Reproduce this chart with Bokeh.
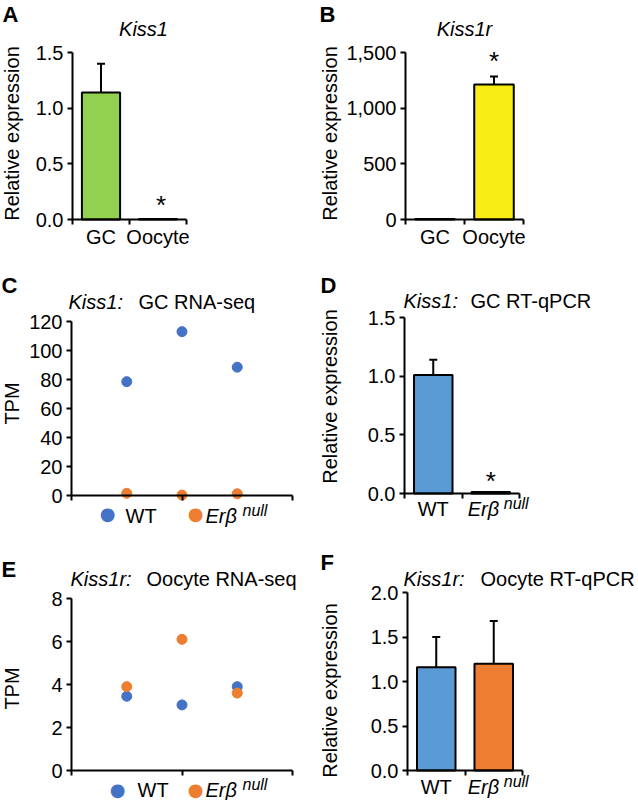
import numpy as np
from bokeh.plotting import figure
from bokeh.models import (Range1d, FixedTicker, Label, Whisker, ColumnDataSource,
                          TeeHead, NumeralTickFormatter)
from bokeh.layouts import gridplot
from bokeh.embed import file_html
from bokeh.resources import INLINE

# ---------------- data ----------------
# A: Kiss1 relative expression
kiss1_cells = ["GC", "Oocyte"]
kiss1_expr = [1.14, 0.005]
kiss1_err = [0.26, 0.0]
kiss1_ticks = [0.0, 0.5, 1.0, 1.5]

# B: Kiss1r relative expression
kiss1r_cells = ["GC", "Oocyte"]
kiss1r_expr = [5.0, 1213.0]
kiss1r_err = [0.0, 71.0]
kiss1r_ticks = [0, 500, 1000, 1500]

# C: Kiss1 GC RNA-seq (TPM, three replicates)
reps = [1, 2, 3]
gc_tpm_wt = [78.5, 113.0, 88.5]
gc_tpm_null = [1.5, 0.3, 1.2]
gc_tpm_ticks = [0, 20, 40, 60, 80, 100, 120]

# D: Kiss1 GC RT-qPCR
genotypes = ["WT", "Erβ"]
gc_qpcr_expr = [1.01, 0.012]
gc_qpcr_err = [0.13, 0.0]
gc_qpcr_ticks = [0.0, 0.5, 1.0, 1.5]

# E: Kiss1r oocyte RNA-seq (TPM)
oo_tpm_wt = [3.45, 3.05, 3.9]
oo_tpm_null = [3.9, 6.1, 3.6]
oo_tpm_ticks = [0, 2, 4, 6, 8]

# F: Kiss1r oocyte RT-qPCR
oo_qpcr_expr = [1.16, 1.20]
oo_qpcr_err = [0.34, 0.48]
oo_qpcr_ticks = [0.0, 0.5, 1.0, 1.5, 2.0]

# ---------------- styling / layout ----------------
FONT = "Liberation Sans"
GREEN, YELLOW = "#92D050", "#F7EC13"
BAR_BLUE, BAR_ORANGE = "#5B9BD5", "#ED7D31"
DOT_BLUE, DOT_ORANGE = "#4472C4", "#ED7D31"
COLS = [(0, 318), (318, 318)]
ROWS = [(0, 268), (268, 264), (532, 268)]
K_ALPHA = 0.35   # measured downward drift of baseline-anchored labels (em)
K_MID = 0.10


def panel(col, row, frame, xmax, yticks, fmt, xminor):
    ox, w = COLS[col]
    oy, h = ROWS[row]
    L, T, R, B = frame
    ytop = yticks[-1]
    xr = Range1d((ox - L) / (R - L) * xmax, (ox + w - L) / (R - L) * xmax)
    yr = Range1d((B - (oy + h)) / (B - T) * ytop, (B - oy) / (B - T) * ytop)
    p = figure(width=w, height=h, x_range=xr, y_range=yr,
               output_backend="svg", toolbar_location=None, title=None,
               min_border=0, background_fill_color="white",
               border_fill_color="white")
    p.outline_line_color = None
    p.xgrid.visible = False
    p.ygrid.visible = False
    for ax in (p.xaxis[0], p.yaxis[0]):
        ax.fixed_location = 0
        ax.axis_line_color = "black"
        ax.axis_line_width = 2
        ax.major_tick_line_color = "black"
        ax.major_tick_line_width = 2
        ax.major_tick_out = 5
        ax.major_tick_in = 0
        ax.minor_tick_line_color = "black"
        ax.minor_tick_line_width = 2
        ax.minor_tick_out = 5
        ax.minor_tick_in = 0
        ax.major_label_text_font = FONT
        ax.major_label_text_color = "black"
    p.yaxis.bounds = (yticks[0], ytop)
    p.yaxis.ticker = FixedTicker(ticks=yticks, minor_ticks=[])
    p.yaxis.formatter = NumeralTickFormatter(format=fmt)
    p.yaxis.major_label_text_font_size = "20px"
    p.yaxis.major_label_standoff = 4
    p.xaxis.bounds = (0, xmax)
    p.xaxis.ticker = FixedTicker(ticks=[], minor_ticks=xminor)
    return p, (ox, oy, h)


def _adj(py, size, baseline):
    return py - (K_ALPHA if baseline == "alphabetic" else K_MID) * size


def put(pf, px, py, text, size=20, style="normal", align="left",
        baseline="alphabetic", color="black", angle=0.0, font=FONT):
    p, (ox, oy, h) = pf
    if angle:
        px = px - K_MID * size
    else:
        py = _adj(py, size, baseline)
    p.add_layout(Label(x=px - ox, y=oy + h - py, x_units="screen", y_units="screen",
                       text=text, text_font=font, text_font_size=f"{size}px",
                       text_font_style=style, text_align=align,
                       text_baseline=baseline, text_color=color, angle=angle))


def put_cat(pf, xdata, py, text, xoff=0, size=20, style="normal", align="center"):
    p, (ox, oy, h) = pf
    py = _adj(py, size, "alphabetic")
    p.add_layout(Label(x=xdata, y=oy + h - py, x_units="data", y_units="screen",
                       x_offset=xoff, text=text, text_font=FONT,
                       text_font_size=f"{size}px", text_font_style=style,
                       text_align=align, text_baseline="alphabetic",
                       text_color="black"))


def bars(pf, vals, errs, colors):
    p = pf[0]
    xs = [0.5 + i for i in range(len(vals))]
    p.vbar(x=xs, top=vals, width=0.67, fill_color=colors,
           line_color="black", line_width=2)
    keep = [i for i, e in enumerate(errs) if e > 0]
    src = ColumnDataSource(dict(x=[xs[i] for i in keep],
                                lo=[vals[i] for i in keep],
                                hi=[vals[i] + errs[i] for i in keep]))
    p.add_layout(Whisker(source=src, base="x", lower="lo", upper="hi",
                         dimension="height", line_color="black", line_width=2,
                         lower_head=None,
                         upper_head=TeeHead(size=8, line_color="black",
                                            line_width=2), level="glyph"))
    return xs


def legend(pf, bx, wx, orx, ex, nx, ycen, ybase):
    put(pf, bx, ycen, "●", size=18, align="center", baseline="middle",
        color=DOT_BLUE, font="DejaVu Sans")
    put(pf, wx, ybase, "WT")
    put(pf, orx, ycen, "●", size=18, align="center", baseline="middle",
        color=DOT_ORANGE, font="DejaVu Sans")
    put(pf, ex, ybase, "Erβ", style="italic")
    put(pf, nx, ybase - 6, "null", size=16, style="italic")


RAD = np.pi / 2

# ---- A ----
pA = panel(0, 0, (72, 52, 186, 219), 2, kiss1_ticks, "0.0", [0, 1, 2])
xs = bars(pA, kiss1_expr, kiss1_err, [GREEN, GREEN])
put(pA, 2, 22, "A", size=22, style="bold")
put(pA, 143, 35, "Kiss1", style="italic", align="center")
put(pA, 13, 133, "Relative expression", angle=RAD, align="center", baseline="middle")
for x, c in zip(xs, kiss1_cells):
    put_cat(pA, x, 243, c)
put_cat(pA, xs[1], 214, "*", size=26, xoff=3)

# ---- B ----
pB = panel(1, 0, (405, 52, 523, 219), 2, kiss1r_ticks, "0,0", [0, 1, 2])
xs = bars(pB, kiss1r_expr, kiss1r_err, [YELLOW, YELLOW])
put(pB, 319, 22, "B", size=22, style="bold")
put(pB, 464, 35, "Kiss1r", style="italic", align="center")
put(pB, 331, 133, "Relative expression", angle=RAD, align="center", baseline="middle")
for x, c in zip(xs, kiss1r_cells):
    put_cat(pB, x, 243, c)
put_cat(pB, xs[1], 70, "*", size=26)

# ---- C ----
pC = panel(0, 1, (71, 321, 292, 495), 4, gc_tpm_ticks, "0", [0, 2, 4])
pC[0].scatter(x=reps, y=gc_tpm_wt, size=10, color=DOT_BLUE)
pC[0].scatter(x=reps, y=gc_tpm_null, size=10, color=DOT_ORANGE)
put(pC, 1, 293, "C", size=22, style="bold")
put(pC, 68, 308, "Kiss1:", style="italic")
put(pC, 138, 308, "GC RNA-seq")
put(pC, 13, 403, "TPM", angle=RAD, align="center", baseline="middle")
legend(pC, 107, 125, 195, 205, 242, 515, 522)

# ---- D ----
pD = panel(1, 1, (404, 317, 519, 493), 2, gc_qpcr_ticks, "0.0", [0, 1, 2])
xs = bars(pD, gc_qpcr_expr, gc_qpcr_err, [BAR_BLUE, BAR_BLUE])
put(pD, 320, 293, "D", size=22, style="bold")
put(pD, 403, 307, "Kiss1:", style="italic")
put(pD, 470, 307, "GC RT-qPCR")
put(pD, 331, 396, "Relative expression", angle=RAD, align="center", baseline="middle")
put_cat(pD, xs[0], 515, genotypes[0])
put_cat(pD, xs[1], 515, genotypes[1], xoff=-23, style="italic", align="left")
put_cat(pD, xs[1], 509, "null", xoff=13, size=16, style="italic", align="left")
put_cat(pD, xs[1], 490, "*", size=26)

# ---- E ----
pE = panel(0, 2, (71, 598, 292, 770), 4, oo_tpm_ticks, "0", [0, 2, 4])
pE[0].scatter(x=reps, y=oo_tpm_wt, size=10, color=DOT_BLUE)
pE[0].scatter(x=reps, y=oo_tpm_null, size=10, color=DOT_ORANGE)
put(pE, 1, 577, "E", size=22, style="bold")
put(pE, 70, 585, "Kiss1r:", style="italic")
put(pE, 146, 585, "Oocyte RNA-seq")
put(pE, 13, 688, "TPM", angle=RAD, align="center", baseline="middle")
legend(pE, 117, 137, 195, 205, 242, 791, 796)

# ---- F ----
pF = panel(1, 2, (407, 592, 522, 770), 2, oo_qpcr_ticks, "0.0", [0, 1, 2])
xs = bars(pF, oo_qpcr_expr, oo_qpcr_err, [BAR_BLUE, BAR_ORANGE])
put(pF, 320, 570, "F", size=22, style="bold")
put(pF, 403, 585, "Kiss1r:", style="italic")
put(pF, 480, 585, "Oocyte RT-qPCR")
put(pF, 331, 690, "Relative expression", angle=RAD, align="center", baseline="middle")
put_cat(pF, xs[0], 793, genotypes[0])
put_cat(pF, xs[1], 793, genotypes[1], xoff=-26, style="italic", align="left")
put_cat(pF, xs[1], 787, "null", xoff=10, size=16, style="italic", align="left")

grid = gridplot([[pA[0], pB[0]], [pC[0], pD[0]], [pE[0], pF[0]]],
                toolbar_location=None)

open("out.html", "w").write(file_html(grid, INLINE))
